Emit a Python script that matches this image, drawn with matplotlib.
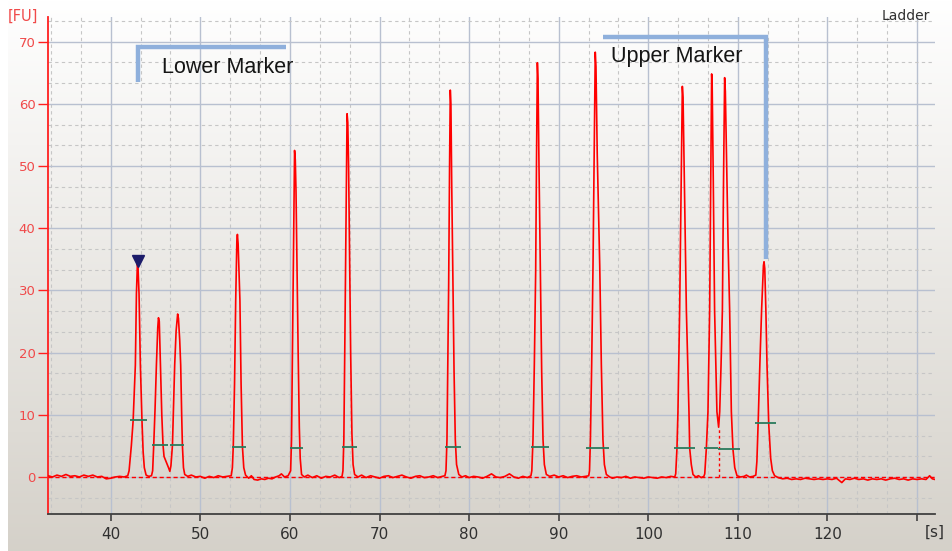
import numpy as np
import matplotlib
matplotlib.use("Agg")
import matplotlib.pyplot as plt
from matplotlib.ticker import MultipleLocator

# electropherogram trace: time [s], fluorescence [FU]
trace_time = [
    33.0, 33.5, 34.0, 34.5, 35.0, 35.5, 36.0, 36.5, 37.0, 37.5, 38.0, 38.5, 39.0, 39.5, 40.0, 40.5, 41.0, 41.5, 41.9,
    42.05, 42.3, 42.5, 42.75, 42.87, 42.98, 43.05, 43.16, 43.31, 43.49, 43.62, 43.75, 43.95, 44.25, 44.55,
    44.68, 44.8, 44.95, 45.1, 45.25, 45.33, 45.42, 45.55, 45.7, 45.84, 45.95, 46.2, 46.45, 46.6, 46.72,
    46.89, 47.0, 47.14, 47.3, 47.47, 47.56, 47.7, 47.81, 47.92, 48.0, 48.12, 48.26, 48.6, 49.0, 49.5, 50.0,
    50.5, 51.0, 51.5, 52.0, 52.5, 53.0, 53.45,
    53.58, 53.68, 53.82, 53.95, 54.08, 54.14, 54.22, 54.32, 54.42, 54.55, 54.7, 54.85, 55.05, 55.4, 55.7,
    56.0, 56.4, 56.8, 57.2, 57.6, 58.0, 58.4, 58.8, 59.05, 59.4, 59.8,
    60.08, 60.18, 60.28, 60.4, 60.52, 60.6, 60.68, 60.8, 60.92, 61.05, 61.15, 61.3, 61.6, 62.0, 62.5, 63.0,
    63.5, 64.0, 64.5, 65.0, 65.5, 65.82,
    65.92, 66.02, 66.12, 66.25, 66.38, 66.46, 66.55, 66.66, 66.78, 66.92, 67.05, 67.22, 67.6, 68.0, 68.5,
    69.0, 69.5, 70.0, 70.5, 71.0, 71.5, 72.0, 72.5, 73.0, 73.5, 74.0, 74.5, 75.0, 75.5, 76.0, 76.5, 77.0, 77.3,
    77.42, 77.53, 77.62, 77.72, 77.82, 77.9, 77.97, 78.06, 78.2, 78.32, 78.46, 78.6, 78.85, 79.2, 79.6,
    80.0, 80.5, 81.0, 81.5, 82.0, 82.5, 83.0, 83.5, 84.0, 84.5, 85.0, 85.5, 86.0, 86.5, 86.9,
    87.0, 87.13, 87.28, 87.43, 87.53, 87.62, 87.69, 87.8, 87.96, 88.1, 88.25, 88.4, 88.62, 89.0, 89.5,
    90.0, 90.5, 91.0, 91.5, 92.0, 92.5, 93.0, 93.35,
    93.44, 93.54, 93.68, 93.83, 93.96, 94.08, 94.16, 94.3, 94.58, 94.76, 94.94, 95.1, 95.32, 95.7, 96.0,
    96.5, 97.0, 97.5, 98.0, 98.5, 99.0, 99.5, 100.0, 100.5, 101.0, 101.5, 102.0, 102.5, 102.95,
    103.06, 103.2, 103.31, 103.5, 103.65, 103.8, 103.88, 104.0, 104.25, 104.54, 104.62, 104.8, 104.99,
    105.3, 105.6, 105.9, 106.2,
    106.3, 106.48, 106.66, 106.85, 106.97, 107.07, 107.13, 107.25, 107.4, 107.66, 107.85,
    107.97, 108.12, 108.27, 108.4, 108.52, 108.6, 108.75, 108.9, 109.08, 109.27, 109.45, 109.65, 109.9,
    110.3, 110.7, 110.95, 111.3, 111.7, 112.0,
    112.12, 112.26, 112.45, 112.65, 112.85, 112.92, 113.0, 113.12, 113.25, 113.44, 113.66, 113.85, 114.1,
    114.5, 115.0, 115.5, 116.0, 116.5, 117.0, 117.5, 118.0, 118.5, 119.0, 119.5, 120.0, 120.5, 121.0,
    121.6, 122.0, 122.5, 123.0, 123.5, 124.0, 124.5, 125.0, 125.5, 126.0, 126.5, 127.0, 127.5, 128.0,
    128.5, 129.0, 129.5, 130.0, 130.5, 131.0, 131.4, 131.7, 132.0,
]
trace_fu = [
    0.2, 0.0, 0.3, 0.1, 0.4, 0.1, 0.2, 0.0, 0.3, 0.1, 0.3, 0.0, 0.1, -0.3, -0.2, 0.0, 0.1, 0.0, 0.2,
    1.0, 5.0, 9.0, 18.0, 29.5, 34.3, 33.5, 29.5, 18.0, 9.0, 4.0, 1.5, 0.3, 0.1, 0.2,
    1.0, 5.1, 11.0, 18.0, 24.0, 25.6, 25.0, 18.0, 10.0, 5.1, 3.3, 2.4, 1.5, 0.9, 1.8,
    5.1, 11.0, 18.0, 23.5, 26.2, 25.5, 22.0, 18.0, 10.0, 5.1, 1.5, 0.4, 0.1, 0.3, 0.0, 0.1,
    -0.2, 0.1, -0.1, 0.2, 0.0, 0.1, 0.2,
    1.5, 5.0, 15.0, 28.4, 38.0, 39.0, 37.5, 33.0, 28.4, 15.0, 4.9, 1.5, 0.3, -0.2, 0.2,
    -0.4, -0.5, -0.3, -0.4, -0.2, -0.3, 0.0, 0.2, 0.5, 0.0, 0.2,
    1.0, 6.0, 20.0, 38.0, 52.5, 51.0, 46.0, 33.0, 20.0, 8.0, 3.0, 0.4, 0.0, 0.3, -0.1, 0.2,
    -0.2, 0.1, 0.0, 0.3, -0.1, 0.1,
    1.0, 6.0, 20.0, 40.0, 58.4, 57.0, 50.0, 35.0, 20.0, 7.0, 2.0, 0.4, 0.0, 0.3, -0.1,
    0.2, 0.0, -0.2, 0.1, 0.2, -0.1, 0.1, 0.3, 0.0, -0.2, 0.1, 0.2, -0.1, 0.0, 0.2, -0.1, 0.1, 0.2,
    1.0, 6.0, 18.0, 31.0, 50.0, 62.2, 60.0, 47.0, 31.0, 17.0, 6.0, 2.0, 0.4, 0.0, 0.2,
    -0.1, 0.1, 0.0, -0.2, 0.1, 0.5, 0.0, -0.1, 0.1, 0.5, 0.0, -0.2, 0.1, -0.1, 0.2,
    1.0, 6.0, 18.0, 33.0, 52.0, 66.6, 64.0, 50.0, 33.0, 17.0, 6.0, 2.0, 0.4, 0.1, 0.3,
    0.0, 0.2, -0.1, 0.1, 0.2, 0.0, 0.1, 0.2,
    1.0, 6.0, 18.0, 34.0, 52.0, 68.3, 66.0, 52.0, 34.0, 18.0, 6.0, 2.0, 0.4, 0.0, -0.2,
    0.0, -0.1, 0.1, -0.2, 0.0, -0.1, -0.2, 0.0, -0.1, -0.2, 0.0, -0.1, 0.1, 0.0,
    0.5, 4.6, 10.5, 26.8, 45.0, 62.8, 61.0, 50.0, 26.8, 10.5, 4.6, 2.0, 0.4,
    0.0, 0.2, -0.1, 0.1,
    0.5, 4.6, 10.5, 26.8, 48.0, 64.8, 63.0, 48.0, 26.8, 10.5, 8.0,
    10.5, 18.0, 26.8, 48.0, 64.2, 62.0, 50.0, 38.0, 26.8, 10.5, 4.45, 1.5, 0.2,
    0.0, 0.1, 0.3, 0.0, 0.1, 0.3,
    2.5, 8.6, 18.0, 27.0, 34.0, 34.6, 33.5, 27.0, 18.0, 8.6, 3.0, 1.0, 0.2,
    -0.1, -0.3, -0.2, -0.4, -0.3, -0.4, -0.2, -0.3, -0.4, -0.3, -0.4, -0.3, -0.4, -0.2,
    -0.9, -0.3, -0.4, -0.2, -0.4, -0.3, -0.5, -0.3, -0.4, -0.3, -0.5, -0.3, -0.2, -0.4,
    -0.3, -0.5, -0.3, -0.4, -0.3, -0.4, 0.2, -0.3, -0.4,
]

# green peak-width bars
bar_start = [42.1, 44.6, 46.6, 53.5, 60.05, 65.85, 77.28, 86.88, 93.08, 102.9, 106.2, 107.8, 111.95]
bar_end = [44.0, 46.4, 48.2, 55.1, 61.5, 67.49, 79.14, 88.88, 95.65, 105.2, 107.8, 110.2, 114.2]
bar_level = [9.1, 5.1, 5.1, 4.9, 4.7, 4.9, 4.9, 4.9, 4.7, 4.6, 4.6, 4.45, 8.6]

# valley split between the two close peaks
valley_time = 107.85
valley_fu = 8.0

# lower marker flag and bracket outlines
lower_peak = (42.99, 34.7)
lower_bracket_x = [43.0, 43.0, 59.6]
lower_bracket_y = [63.5, 69.2, 69.2]
upper_bracket_x = [95.0, 113.15, 113.15]
upper_bracket_y = [70.7, 70.7, 35.0]

x_ticks = [40, 50, 60, 70, 80, 90, 100, 110, 120, 130]
x_labels = ["40", "50", "60", "70", "80", "90", "100", "110", "120", ""]
y_ticks = [0, 10, 20, 30, 40, 50, 60, 70]

W, H = 953, 551
fig = plt.figure(figsize=(W / 100, H / 100), dpi=100)
fig.patch.set_facecolor("white")

# background gradient panel
bg = fig.add_axes([8 / W, 0, 1 - 8 / W, 1], zorder=0)
top_col = np.array([1.0, 1.0, 1.0])
bot_col = np.array([0.835, 0.82, 0.79])
frac = np.linspace(0, 1, 256)[:, None]
grad = top_col[None, :] * (1 - frac) + bot_col[None, :] * frac
bg.imshow(grad[:, None, :], aspect="auto", extent=[0, 1, 0, 1], interpolation="bilinear")
bg.axis("off")

left, right, top, bottom = 48, 935, 16.7, 514.3
ax = fig.add_axes([left / W, 1 - bottom / H, (right - left) / W, (bottom - top) / H], zorder=1)
ax.patch.set_alpha(0)
ax.set_xlim(33, 132)
ax.set_ylim(-6, 74)

ax.set_xticks(x_ticks)
ax.set_xticklabels(x_labels)
ax.set_yticks(y_ticks)
ax.xaxis.set_minor_locator(MultipleLocator(10 / 3))
ax.yaxis.set_minor_locator(MultipleLocator(10 / 3))
ax.grid(True, which="major", color="#b8c0d0", lw=1.0)
ax.grid(True, which="minor", color="#c6c6c6", lw=0.8, ls=(0, (3, 3)))
ax.set_axisbelow(True)

for s in ["top", "right"]:
    ax.spines[s].set_visible(False)
ax.spines["left"].set_color("#ff2020")
ax.spines["left"].set_linewidth(1.3)
ax.spines["bottom"].set_color("#404040")
ax.spines["bottom"].set_linewidth(1.3)
ax.tick_params(axis="y", which="major", colors="#ff2020", labelcolor="#f04a4a",
               length=7, width=1, labelsize=9.5, pad=2)
ax.tick_params(axis="x", which="major", colors="#404040", labelcolor="#303030",
               length=5, width=1.2, labelsize=11, pad=4)
ax.tick_params(which="minor", length=0)

# baseline and trace
ax.plot([33, 132], [0, 0], color="#ff0000", lw=1.0, ls=(0, (3, 2)), zorder=3)
ax.plot([valley_time, valley_time], [0, valley_fu], color="#ff0000", lw=1.0, ls=(0, (2, 2)), zorder=3)
ax.plot(trace_time, trace_fu, color="#ff0000", lw=1.2, zorder=4)
ax.hlines(bar_level, bar_start, bar_end, color="#2a7a5c", lw=1.3, zorder=5)
ax.plot(*lower_peak, marker="v", color="#1c1c6a", ms=9, zorder=6, clip_on=False)

# marker brackets
ax.plot(lower_bracket_x, lower_bracket_y, color="#8fb0dc", lw=3.2, solid_capstyle="butt",
        solid_joinstyle="miter", zorder=6)
ax.plot(upper_bracket_x, upper_bracket_y, color="#8fb0dc", lw=3.2, solid_capstyle="butt",
        solid_joinstyle="miter", zorder=6)

label_font = ["Liberation Sans", "DejaVu Sans"]
ax.text(45.75, 64.9, "Lower Marker", fontsize=15.5, family=label_font, color="#151515",
        ha="left", va="baseline", zorder=7)
ax.text(95.87, 66.66, "Upper Marker", fontsize=15.5, family=label_font, color="#151515",
        ha="left", va="baseline", zorder=7)

fig.text(930 / W, 1 - 16 / H, "Ladder", fontsize=10, color="#303030", ha="right", va="center")
fig.text(23 / W, 1 - 16.5 / H, "[FU]", fontsize=10.5, color="#f04a4a", ha="center", va="center")
fig.text(935 / W, 1 - 532 / H, "[s]", fontsize=11, color="#303030", ha="center", va="center")

fig.savefig("out.png", dpi=100)
